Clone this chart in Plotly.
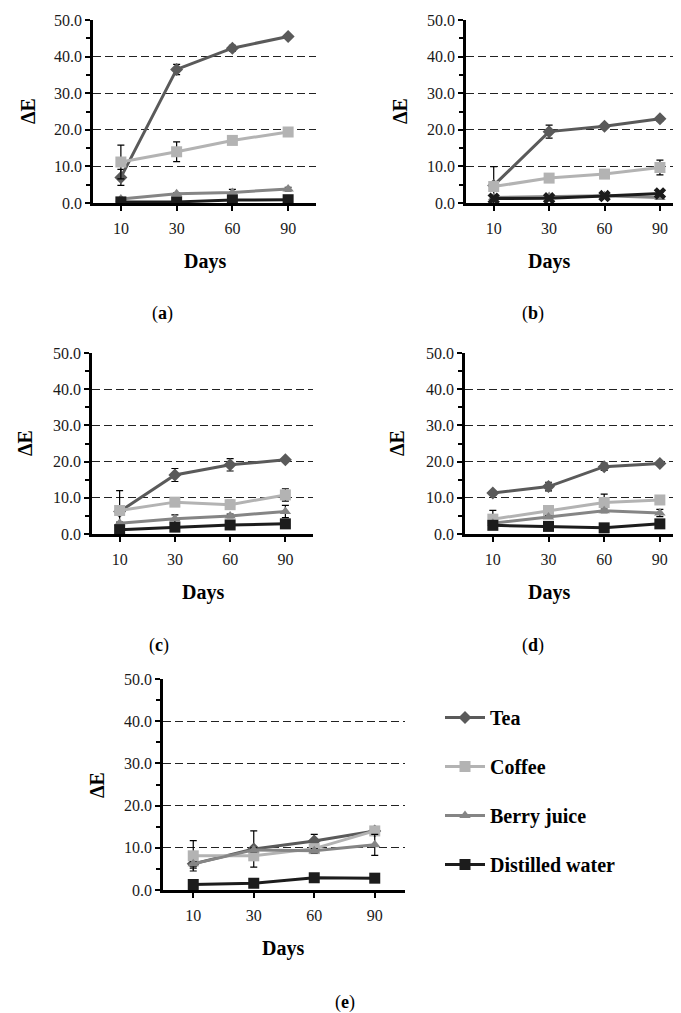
import plotly.graph_objects as go

days = ["10", "30", "60", "90"]
series_names = ["Tea", "Coffee", "Berry juice", "Distilled water"]

# panel (a)
tea_a = [7.0, 36.5, 42.3, 45.5]
coffee_a = [11.2, 14.0, 17.1, 19.4]
berry_a = [1.1, 2.5, 2.9, 3.8]
water_a = [0.3, 0.3, 0.8, 0.9]
tea_a_err = [2.2, 1.4, 0.8, 0.5]
coffee_a_err = [4.6, 2.7, 0.5, 0.5]
berry_a_err = [0.3, 0.3, 0.8, 0.5]
water_a_err = [0.2, 0.2, 0.8, 0.5]

# panel (b)
tea_b = [4.8, 19.5, 21.0, 23.0]
coffee_b = [4.5, 6.8, 7.9, 9.7]
berry_b = [1.5, 1.8, 2.0, 1.5]
water_b = [1.2, 1.3, 1.9, 2.6]
tea_b_err = [5.1, 1.8, 0.6, 0.6]
coffee_b_err = [0.5, 0.5, 0.8, 2.0]
berry_b_err = [0.3, 0.3, 0.3, 0.3]
water_b_err = [0.3, 0.3, 0.3, 0.3]

# panel (c)
tea_c = [6.2, 16.3, 19.1, 20.5]
coffee_c = [6.5, 8.8, 8.1, 10.8]
berry_c = [3.0, 4.2, 5.0, 6.2]
water_c = [1.2, 1.9, 2.5, 2.8]
tea_c_err = [0.3, 1.8, 1.7, 0.4]
coffee_c_err = [5.5, 0.5, 1.2, 1.7]
berry_c_err = [0.3, 1.1, 0.5, 1.7]
water_c_err = [0.3, 0.3, 0.3, 0.3]

# panel (d)
tea_d = [11.3, 13.1, 18.6, 19.5]
coffee_d = [4.1, 6.5, 8.7, 9.4]
berry_d = [3.0, 4.7, 6.4, 5.8]
water_d = [2.4, 2.1, 1.7, 2.8]
tea_d_err = [0.5, 1.2, 1.0, 0.3]
coffee_d_err = [2.4, 0.5, 2.3, 0.5]
berry_d_err = [0.3, 0.3, 0.5, 1.0]
water_d_err = [0.3, 0.3, 0.3, 0.3]

# panel (e)
tea_e = [6.2, 9.7, 11.6, 14.0]
coffee_e = [8.1, 8.1, 9.8, 14.0]
berry_e = [6.2, 9.5, 9.3, 10.7]
water_e = [1.3, 1.6, 2.9, 2.8]
tea_e_err = [1.0, 4.3, 1.6, 0.5]
coffee_e_err = [3.6, 1.0, 0.5, 0.5]
berry_e_err = [0.5, 0.5, 0.5, 2.5]
water_e_err = [0.3, 0.3, 0.3, 0.3]

panel_labels = ["a", "b", "c", "d", "e"]
y_title = "ΔE"
x_title = "Days"

# page body has an 8px margin; the figure fills the rest of the 681x1013 window
OFF = 8
W, H = 681 - OFF, 1013 - OFF


def fx(px):
    return (px - OFF) / W


def fy(py):
    return 1 - (py - OFF) / H


FONT = "'Liberation Serif', 'DejaVu Serif', serif"
colors = ["#5a5a5a", "#b3b3b3", "#858585", "#1c1c1c"]
symbols = ["diamond", "square", "triangle-up", "square"]
msizes = [10, 11, 10, 11]

panels = [
    dict(vals=[tea_a, coffee_a, berry_a, water_a], errs=[tea_a_err, coffee_a_err, berry_a_err, water_a_err],
         x=(93, 316), y=(20, 203), rng=3.5, water_sym="square",
         ytl=(28, 111), xtl=(205, 261), lab=(162, 313)),
    dict(vals=[tea_b, coffee_b, berry_b, water_b], errs=[tea_b_err, coffee_b_err, berry_b_err, water_b_err],
         x=(466, 681), y=(20, 203), rng=3.38, water_sym="x",
         ytl=(400, 111), xtl=(549, 261), lab=(533, 313)),
    dict(vals=[tea_c, coffee_c, berry_c, water_c], errs=[tea_c_err, coffee_c_err, berry_c_err, water_c_err],
         x=(92, 313), y=(353, 534), rng=3.5, water_sym="square",
         ytl=(25, 443), xtl=(203, 592), lab=(159, 645)),
    dict(vals=[tea_d, coffee_d, berry_d, water_d], errs=[tea_d_err, coffee_d_err, berry_d_err, water_d_err],
         x=(465, 681), y=(353, 534), rng=3.38, water_sym="square",
         ytl=(397, 443), xtl=(549, 592), lab=(533, 645)),
    dict(vals=[tea_e, coffee_e, berry_e, water_e], errs=[tea_e_err, coffee_e_err, berry_e_err, water_e_err],
         x=(163, 405), y=(679, 890), rng=3.5, water_sym="square",
         ytl=(97, 785), xtl=(283, 948), lab=(345, 1002)),
]

fig = go.Figure()
annotations = []
layout = {}

for i, p in enumerate(panels):
    n = "" if i == 0 else str(i + 1)
    xa, ya = "x" + n, "y" + n
    for s in range(4):
        sym = symbols[s]
        if s == 3:
            sym = p["water_sym"]
        fig.add_trace(go.Scatter(
            x=days, y=p["vals"][s], xaxis=xa, yaxis=ya,
            mode="lines+markers", name=series_names[s],
            legendgroup=series_names[s], showlegend=(i == 0),
            line=dict(color=colors[s], width=3),
            marker=dict(symbol=sym, size=msizes[s], color=colors[s],
                        line=dict(width=0)),
            error_y=dict(type="data", array=p["errs"][s], visible=True,
                         color="black", thickness=1.2, width=3.5),
        ))
    layout["xaxis" + n] = dict(
        domain=[fx(p["x"][0]), min(fx(p["x"][1]), 1.0)], anchor=ya,
        type="category", range=[-0.5, p["rng"]],
        showline=True, linecolor="black", linewidth=2.5,
        ticks="outside", ticklen=5, tickwidth=2, tickcolor="black",
        ticklabelstandoff=4, automargin=False,
        tickfont=dict(family=FONT, size=16, color="#1a1a1a"),
        showgrid=False, zeroline=False, fixedrange=True,
    )
    layout["yaxis" + n] = dict(
        domain=[fy(p["y"][1]), fy(p["y"][0])], anchor=xa,
        range=[0, 50], dtick=10, tickformat=".1f", automargin=False,
        showline=True, linecolor="black", linewidth=2.5,
        ticks="outside", ticklen=5, tickwidth=2, tickcolor="black",
        minor=dict(dtick=5, ticks="outside", ticklen=4, tickwidth=2, tickcolor="black", showgrid=False),
        tickfont=dict(family=FONT, size=16, color="#1a1a1a"),
        showgrid=True, gridcolor="#222222", gridwidth=1.1, griddash="8px,4px",
        zeroline=False, fixedrange=True,
    )
    common = dict(xref="paper", yref="paper", showarrow=False, xanchor="center", yanchor="middle")
    annotations.append(dict(text="<b>" + y_title + "</b>", x=fx(p["ytl"][0]), y=fy(p["ytl"][1]),
                            textangle=-90, font=dict(family=FONT, size=20, color="black"), **common))
    annotations.append(dict(text="<b>" + x_title + "</b>", x=fx(p["xtl"][0]), y=fy(p["xtl"][1]),
                            font=dict(family=FONT, size=20, color="black"), **common))
    annotations.append(dict(text="(<b>" + panel_labels[i] + "</b>)", x=fx(p["lab"][0]), y=fy(p["lab"][1]),
                            font=dict(family=FONT, size=18, color="black"), **common))

fig.update_layout(
    width=W, height=H, autosize=False,
    margin=dict(l=0, r=0, t=0, b=0, pad=0, autoexpand=False),
    paper_bgcolor="white", plot_bgcolor="white",
    font=dict(family=FONT),
    showlegend=True,
    legend=dict(x=fx(440), y=fy(698), xanchor="left", yanchor="top",
                font=dict(family=FONT, size=20, color="black", weight="bold"),
                tracegroupgap=20, traceorder="grouped", bgcolor="rgba(0,0,0,0)",
                itemwidth=40),
    annotations=annotations,
    **layout,
)

fig.write_html("out.html")
